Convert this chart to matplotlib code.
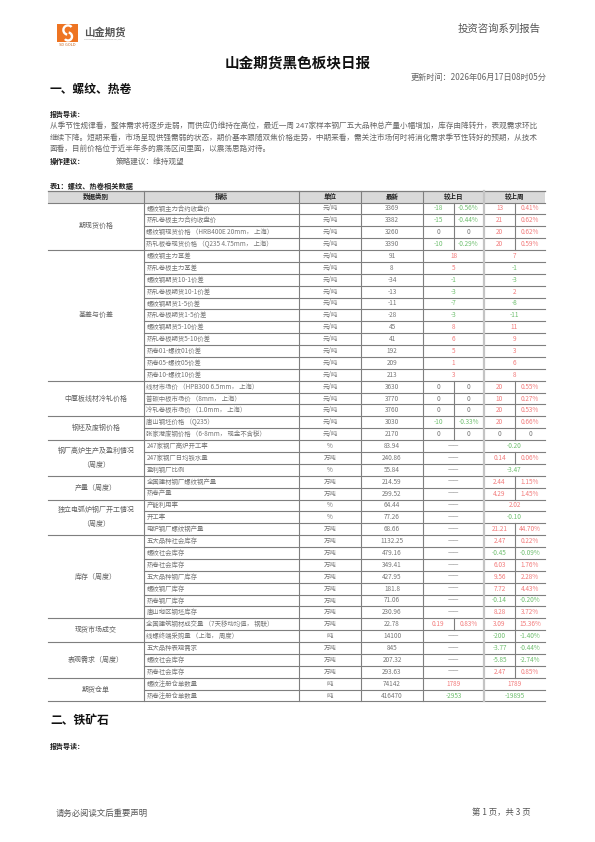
import matplotlib
matplotlib.use('Agg')
import matplotlib.pyplot as plt
from matplotlib.patches import Rectangle, Wedge

plt.rcParams['font.family'] = ['Noto Sans CJK SC', 'DejaVu Sans']

# ---- data ----
groups = ['期现货价格', '基差与价差', '中厚板线材冷轧价格', '钢坯及废钢价格',
          '钢厂高炉生产及盈利情况\n（周度）', '产量（周度）',
          '独立电弧炉钢厂开工情况\n（周度）', '库存（周度）', '现货市场成交',
          '表观需求（周度）', '期货仓单']
group_sizes = [4, 11, 3, 2, 3, 2, 3, 7, 2, 3, 2]

indicators = [
    '螺纹钢主力合约收盘价', '热轧卷板主力合约收盘价',
    '螺纹钢现货价格 （HRB400E 20mm， 上海）', '热轧板卷现货价格 （Q235 4.75mm， 上海）',
    '螺纹钢主力基差', '热轧卷板主力基差', '螺纹钢期货10-1价差', '热轧卷板期货10-1价差',
    '螺纹钢期货1-5价差', '热轧卷板期货1-5价差', '螺纹钢期货5-10价差', '热轧卷板期货5-10价差',
    '热卷01-螺纹01价差', '热卷05-螺纹05价差', '热卷10-螺纹10价差',
    '线材市场价 （HPB300 6.5mm， 上海）', '普碳中板市场价 （8mm， 上海）',
    '冷轧卷板市场价 （1.0mm， 上海）',
    '唐山钢坯价格 （Q235）', '张家港废钢价格 （6-8mm， 现金不含税）',
    '247家钢厂高炉开工率', '247家钢厂日均铁水量', '盈利钢厂比例',
    '全国建材钢厂螺纹钢产量', '热卷产量',
    '产能利用率', '开工率', '电炉钢厂螺纹钢产量',
    '五大品种社会库存', '螺纹社会库存', '热卷社会库存', '五大品种钢厂库存',
    '螺纹钢厂库存', '热卷钢厂库存', '唐山地区钢坯库存',
    '全国建筑钢材成交量 （7天移动均值， 钢联）', '线螺终端采购量 （上海， 周度）',
    '五大品种表观需求', '螺纹社会库存', '热卷社会库存',
    '螺纹注册仓单数量', '热卷注册仓单数量']

units = ['元/吨'] * 20 + ['%', '万吨', '%', '万吨', '万吨', '%', '%', '万吨'] + \
        ['万吨'] * 8 + ['吨', '万吨', '万吨', '万吨', '吨', '吨']

latest = ['3369', '3382', '3260', '3390', '91', '8', '-34', '-13', '-11', '-28',
          '45', '41', '192', '209', '213', '3630', '3770', '3760', '3030', '2170',
          '83.94', '240.86', '55.84', '214.59', '299.52', '64.44', '77.26', '68.66',
          '1132.25', '479.16', '349.41', '427.95', '181.8', '71.06', '230.96',
          '22.78', '14100', '845', '207.32', '293.63', '74142', '416470']

D = '——'
day_chg = ['-18', '-15', '0', '-10',
           '18', '5', '-1', '-3', '-7', '-3', '8', '6', '5', '1', '3',
           '0', '0', '0', '-10', '0'] + [D] * 15 + ['0.19'] + [D] * 4 + ['1789', '-2953']
day_pct = ['-0.56%', '-0.44%', '0', '-0.29%'] + [None] * 11 + \
          ['0', '0', '0', '-0.33%', '0'] + [None] * 15 + ['0.83%'] + [None] * 6

week_chg = ['13', '21', '20', '20',
            '7', '-1', '-3', '2', '-8', '-11', '11', '9', '3', '6', '8',
            '20', '10', '20', '20', '0',
            '-0.20', '0.14', '-3.47', '2.44', '4.29', '2.02', '-0.10', '21.21',
            '2.47', '-0.45', '6.03', '9.56', '7.72', '-0.14', '8.28',
            '3.09', '-200', '-3.77', '-5.85', '2.47', '1789', '-19895']
week_pct = ['0.41%', '0.62%', '0.62%', '0.59%'] + [None] * 11 + \
           ['0.55%', '0.27%', '0.53%', '0.66%', '0'] + \
           [None, '0.06%', None, '1.15%', '1.45%', None, None, '44.70%',
            '0.22%', '-0.09%', '1.76%', '2.28%', '4.43%', '-0.20%', '3.72%',
            '15.36%', '-1.40%', '-0.44%', '-2.74%', '0.85%', None, None]

paragraph = [
    '从季节性规律看，整体需求将逐步走弱，而供应仍维持在高位，最近一周 247家样本钢厂五大品种总产量小幅增加，库存由降转升，表观需求环比',
    '继续下降。短期来看，市场呈现供强需弱的状态，期价基本跟随双焦价格走势，中期来看，需关注市场何时将消化需求季节性转好的预期，从技术',
    '面看，目前价格位于近半年多的震荡区间里面，以震荡思路对待。']

RED = '#f27b7b'
GREEN = '#6fbf6f'
GRAY = '#767676'
LINE = '#7f7f7f'


def val_color(s):
    if s == D or s.strip('0.%') == '':
        return GRAY
    return GREEN if s.startswith('-') else RED


fig = plt.figure(figsize=(5.95, 8.42), dpi=100)
ax = fig.add_axes([0, 0, 1, 1])
ax.set_xlim(0, 595)
ax.set_ylim(842, 0)
ax.axis('off')

# ---- page header ----
ax.add_patch(Rectangle((57, 24), 21, 18, color='#ee7422', lw=0))
ax.add_patch(Wedge((68, 30), 5.8, 100, 320, width=2.4, color='white', lw=0))
ax.add_patch(Wedge((68, 36.5), 5.2, 280, 140, width=2.4, color='white', lw=0))
ax.text(67.5, 45, 'SD GOLD', fontsize=2.9, color='#c8641c', ha='center', va='center')
ax.text(84, 32.5, '山金期货', fontsize=7.5, color='#555555', fontweight='bold', va='center')
ax.text(84, 39, 'SHANDONG GOLD FUTURES CO.,LTD', fontsize=1.6, color='#888888', va='center')
ax.text(541, 28.5, '投资咨询系列报告', fontsize=7.5, color='#555555', ha='right', va='center')

ax.text(298, 62, '山金期货黑色板块日报', fontsize=10.5, fontweight='bold', color='#111111',
        ha='center', va='center')
ax.text(547, 77, '更新时间：2026年06月17日08时05分', fontsize=5.9, color='#666666',
        ha='right', va='center')
ax.text(50, 89, '一、螺纹、热卷', fontsize=8.5, fontweight='bold', color='#111111', va='center')
ax.text(50, 114, '报告导读：', fontsize=5, fontweight='bold', color='#222222', va='center')
for i, line in enumerate(paragraph):
    ax.text(50, 126 + i * 11.3, line, fontsize=5.5, color='#666666', va='center')
ax.text(50, 161.5, '操作建议：', fontsize=5, fontweight='bold', color='#222222', va='center')
ax.text(116, 161.5, '策略建议：维持观望', fontsize=5.5, color='#666666', va='center')
ax.text(50, 186.5, '表1：螺纹、热卷相关数据', fontsize=5.2, fontweight='bold', color='#222222',
        va='center')

# ---- table ----
X0, X1 = 48, 545
cols = [48, 144, 299, 361, 423, 484, 545]
DAY_SPLIT, WEEK_SPLIT = 453.5, 515
HEAD_TOP, HEAD_BOT, ROW_H = 191, 202.5, 11.88
n = len(indicators)
bottom = HEAD_BOT + n * ROW_H
FS = 4.6

ax.add_patch(Rectangle((X0, HEAD_TOP), X1 - X0, HEAD_BOT - HEAD_TOP, color='#d9d9d9', lw=0))
ax.plot([X0, X1], [HEAD_TOP, HEAD_TOP], color=LINE, lw=0.9)
headers = ['数据类别', '指标', '单位', '最新', '较上日', '较上周']
for h, a, b in zip(headers, cols[:-1], cols[1:]):
    ax.text((a + b) / 2, (HEAD_TOP + HEAD_BOT) / 2, h, fontsize=4.7, fontweight='bold',
            color='#222222', ha='center', va='center')

starts = [sum(group_sizes[:k]) for k in range(len(group_sizes) + 1)]
for i in range(n + 1):
    y = HEAD_BOT + i * ROW_H
    ax.plot([X0 if i in starts else cols[1], X1], [y, y], color=LINE, lw=0.8)

for x in cols[1:5]:
    ax.plot([x, x], [HEAD_TOP, bottom], color=LINE, lw=0.8)
ax.plot([cols[5], cols[5]], [HEAD_TOP, bottom], color='#c4c4c4', lw=1.6)

for g, a, b in zip(groups, starts[:-1], starts[1:]):
    yc = HEAD_BOT + (a + b) / 2 * ROW_H
    ax.text(96, yc, g, fontsize=5, color='#606060', ha='center', va='center',
            linespacing=2.0)

for i in range(n):
    top = HEAD_BOT + i * ROW_H
    yc = top + ROW_H / 2
    ax.text(146.5, yc, indicators[i], fontsize=FS, color=GRAY, va='center')
    ax.text(330, yc, units[i], fontsize=FS, color=GRAY, ha='center', va='center')
    ax.text(392, yc, latest[i], fontsize=FS, color=GRAY, ha='center', va='center')
    if day_pct[i] is None:
        ax.text(453.5, yc, day_chg[i], fontsize=FS, color=val_color(day_chg[i]),
                ha='center', va='center')
    else:
        ax.plot([DAY_SPLIT, DAY_SPLIT], [top, top + ROW_H], color=LINE, lw=0.8)
        ax.text(438, yc, day_chg[i], fontsize=FS, color=val_color(day_chg[i]),
                ha='center', va='center')
        ax.text(468.5, yc, day_pct[i], fontsize=FS, color=val_color(day_pct[i]),
                ha='center', va='center')
    if week_pct[i] is None:
        ax.text(514.5, yc, week_chg[i], fontsize=FS, color=val_color(week_chg[i]),
                ha='center', va='center')
    else:
        ax.plot([WEEK_SPLIT, WEEK_SPLIT], [top, top + ROW_H], color=LINE, lw=0.8)
        ax.text(499.5, yc, week_chg[i], fontsize=FS, color=val_color(week_chg[i]),
                ha='center', va='center')
        pfs = FS - 1.2 if len(week_pct[i]) > 6 else FS
        ax.text(530, yc, week_pct[i], fontsize=pfs, color=val_color(week_pct[i]),
                ha='center', va='center')

# ---- second section and footer ----
ax.text(50, 720.5, '二、铁矿石', fontsize=8.5, fontweight='bold', color='#111111', va='center')
ax.text(50, 746.5, '报告导读：', fontsize=5, fontweight='bold', color='#222222', va='center')
ax.text(56, 813, '请务必阅读文后重要声明', fontsize=6, color='#555555', va='center')
ax.text(531, 813, '第 1 页，共 3 页', fontsize=6, color='#555555', ha='right', va='center')

fig.savefig('out.png', dpi=100, facecolor='white')
